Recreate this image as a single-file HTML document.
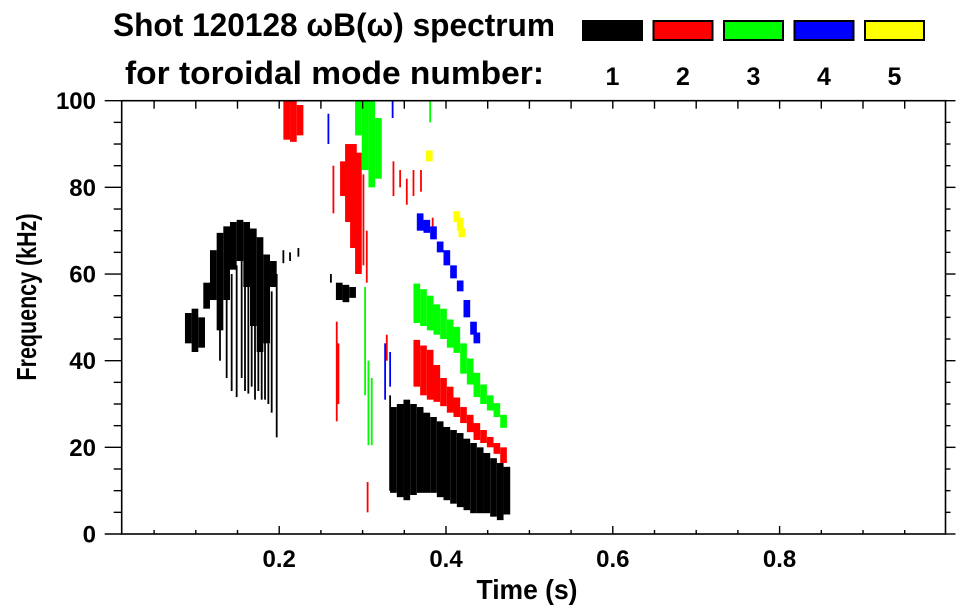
<!DOCTYPE html>
<html><head><meta charset="utf-8"><title>Shot 120128 spectrum</title>
<style>
html,body{margin:0;padding:0;background:#fff;}
svg{display:block;font-family:"Liberation Sans",Arial,sans-serif;font-weight:bold;}
</style></head>
<body>
<svg id="chart" width="963" height="615" viewBox="0 0 963 615" xmlns="http://www.w3.org/2000/svg">
  <rect x="0" y="0" width="963" height="615" fill="#fff"/>
  <text x="113" y="36" font-size="32" textLength="442" lengthAdjust="spacingAndGlyphs">Shot 120128 ωB(ω) spectrum</text>
  <text x="125" y="84" font-size="32" textLength="419" lengthAdjust="spacingAndGlyphs">for toroidal mode number:</text>
  <g id="legend"></g>
  <g id="marks"></g>
  <g id="axes"></g>
  <text x="527" y="599" font-size="28" text-anchor="middle" textLength="101" lengthAdjust="spacingAndGlyphs">Time (s)</text>
  <text transform="translate(36,297) rotate(-90)" font-size="28" text-anchor="middle" textLength="167" lengthAdjust="spacingAndGlyphs">Frequency (kHz)</text>
</svg>
<script>
// ---- data ----
const modeNumbers = [1, 2, 3, 4, 5];
const modeColors = ["#000000", "#ff0000", "#00ff00", "#0000ff", "#ffff00"];
const xTickValues = [0.2, 0.4, 0.6, 0.8];
const xTickLabels = ["0.2", "0.4", "0.6", "0.8"];
const yTickValues = [0, 20, 40, 60, 80, 100];
const yTickLabels = ["0", "20", "40", "60", "80", "100"];

// mode 1 (black) band columns: time (s), low / high frequency (kHz)
const m1BandT  = [.091,.099,.107,.113,.121,.129,.137,.145,.153,.161,.169,.177,.185,.193,.272,.280,.288,.337,.345,.353,.361,.369,.377,.385,.393,.401,.409,.417,.425,.433,.441,.449,.457,.465,.473];
const m1BandLo = [44,42,43,52,54,47,54,61,63,57,48,42,44,57,54,53.5,54.5,9.5,8.5,7.8,9,9.5,9.5,9.5,8.5,7.8,7,6.2,5.5,4.8,4.8,4.8,4,3.2,4.5];
const m1BandHi = [51,52,50,58,65.5,69.5,71,72,72.5,72,70.5,68.5,64.5,63,58,57.5,57,29.3,30,31,30,29.3,28,27,26,24.7,24,23.3,22,21,20,18.7,17.5,16.4,15.5];
const m1StreakT  = [.129,.137,.143,.149,.155,.159,.163,.167,.171,.175,.179,.183,.187,.191,.197,.205,.213,.223,.262,.333];
const m1StreakLo = [40,36,33,31.6,36,33,32.4,34,31,33,31,31,30,28,22.3,62.5,63,64,58,10];
const m1StreakHi = [50,55,60,62,64,60,57,55,48,50,42,45,44,56,60,65.5,65,66,60,32];

// mode 2 (red)
const m2BandT  = [.209,.217,.225,.277,.283,.289,.295,.365,.373,.381,.389,.397,.405,.413,.421,.429,.437,.445,.453,.461,.469];
const m2BandLo = [91,90.5,92,78,72,66,60,34,32,31,30.5,29.5,28,27,25.6,23.5,21.7,21,20,18.5,16.4];
const m2BandHi = [100,100,99,86,90,90,88,44.8,43.5,42.5,39,36,34,31.5,29.3,27.5,25.6,24,22.4,21,20];
const m2StreakT  = [.265,.269,.271,.301,.305,.306,.329,.337,.345,.353,.361,.370,.384];
const m2StreakLo = [74,26,30,62,58,5,40,78,80,76,78,79,70];
const m2StreakHi = [85,49,44,83,70,12,46,86,84,82,84,84,73];

// mode 3 (green)
const m3BandT  = [.295,.303,.311,.319,.365,.373,.381,.389,.397,.405,.413,.421,.429,.437,.445,.453,.461,.469];
const m3BandLo = [92,84,80,82,48.7,48,47,46,45,43,41.8,37,34.5,31.6,30,28.5,27,24.5];
const m3BandHi = [100,100,100,96,57.8,56.5,55,53,52,49.5,47.8,44,40.5,37.2,34.5,32,30.2,27.5];
const m3StreakT  = [.303,.307,.311,.381];
const m3StreakLo = [32,20.5,20.5,95];
const m3StreakHi = [57,40,36,100];

// mode 4 (blue)
const m4BandT  = [.369,.377,.385,.393,.401,.409,.417,.425,.433,.437];
const m4BandLo = [70,69.5,68,65,62,59,56,50,46,44];
const m4BandHi = [74,72.5,71,67.5,65.5,62,58.5,54,49,46.5];
const m4StreakT  = [.259,.327,.333,.336];
const m4StreakLo = [90,31,34,96];
const m4StreakHi = [97,44,42,100];

// mode 5 (yellow)
const m5BandT  = [.380,.413,.417,.419];
const m5BandLo = [86,72,70,68.5];
const m5BandHi = [88.5,74.5,73,70.5];
const m5StreakT  = [];
const m5StreakLo = [];
const m5StreakHi = [];

// ---- scales ----
const PL = 121.7, PR = 945.5, PT = 100.7, PB = 534;
function xs(t){ return 112.4 + 834 * t; }
function ys(f){ return PB - (PB - PT) / 100 * f; }
const BAND_W = 0.008;
const NS = "http://www.w3.org/2000/svg";
function mk(tag, attrs, parent){
  const e = document.createElementNS(NS, tag);
  for (const k in attrs) e.setAttribute(k, attrs[k]);
  parent.appendChild(e);
  return e;
}

// ---- legend ----
const legend = document.getElementById("legend");
modeNumbers.forEach(function(m, i){
  const x0 = 582 + i * 70.5;
  const sw = mk("rect", {x: x0 + 1, y: 21, width: 59, height: 19, fill: modeColors[i], stroke: "#000", "stroke-width": 2}, legend);
  
  
  const tx = mk("text", {x: x0 + 30.5, y: 85, "font-size": 25, "text-anchor": "middle"}, legend);
  tx.textContent = String(m);
  
  
});

// ---- marks ----
const marks = document.getElementById("marks");
const series = [
  [m1BandT, m1BandLo, m1BandHi, m1StreakT, m1StreakLo, m1StreakHi],
  [m2BandT, m2BandLo, m2BandHi, m2StreakT, m2StreakLo, m2StreakHi],
  [m3BandT, m3BandLo, m3BandHi, m3StreakT, m3StreakLo, m3StreakHi],
  [m4BandT, m4BandLo, m4BandHi, m4StreakT, m4StreakLo, m4StreakHi],
  [m5BandT, m5BandLo, m5BandHi, m5StreakT, m5StreakLo, m5StreakHi]
];
series.forEach(function(s, i){
  const g = mk("g", {fill: modeColors[i]}, marks);
  
  
  const bt = s[0], blo = s[1], bhi = s[2];
  for (let k = 0; k < bt.length; k++){
    const x1 = xs(bt[k] - BAND_W / 2), x2 = xs(bt[k] + BAND_W / 2);
    const r = mk("rect", {x: x1, y: ys(bhi[k]), width: x2 - x1, height: ys(blo[k]) - ys(bhi[k])}, g);
    
    
  }
  const st = s[3], slo = s[4], shi = s[5];
  for (let k = 0; k < st.length; k++){
    const r = mk("rect", {x: xs(st[k]) - 0.9, y: ys(shi[k]), width: 1.8, height: ys(slo[k]) - ys(shi[k])}, g);
    
    
  }
});

// ---- axes ----
const axes = document.getElementById("axes");
const frame = mk("rect", {x: PL, y: PT, width: PR - PL, height: PB - PT, fill: "none", stroke: "#000", "stroke-width": 1.6}, axes);


for (let f = 0; f <= 100; f += 5){
  const major = yTickValues.indexOf(f) >= 0;
  const y = ys(f);
  const l = mk("line", {x1: PL - (major ? 17 : 8), x2: PL, y1: y, y2: y, stroke: "#000", "stroke-width": 1.4}, axes);
  
  
  const r = mk("line", {x1: PR, x2: PR + (major ? 10 : 5), y1: y, y2: y, stroke: "#000", "stroke-width": 1.4}, axes);
  
  
}
yTickValues.forEach(function(v, i){
  const t = mk("text", {x: 96, y: ys(v) + 8.5, "font-size": 24, "text-anchor": "end"}, axes);
  t.textContent = yTickLabels[i];
  
  
});
for (let k = 1; k <= 19; k++){
  const t = k * 0.05;
  const x = xs(t);
  const major = Math.abs(t * 5 - Math.round(t * 5)) < 1e-6;
  const b = mk("line", {x1: x, x2: x, y1: PB, y2: PB - (major ? 8 : 4), stroke: "#000", "stroke-width": 1.4}, axes);
  
  
  const tp = mk("line", {x1: x, x2: x, y1: PT, y2: PT + 8, stroke: "#000", "stroke-width": 1.4}, axes);
  
  
}
xTickValues.forEach(function(v, i){
  const t = mk("text", {x: xs(v), y: 567, "font-size": 24, "text-anchor": "middle"}, axes);
  t.textContent = xTickLabels[i];
  
  
});
</script>
</body></html>
